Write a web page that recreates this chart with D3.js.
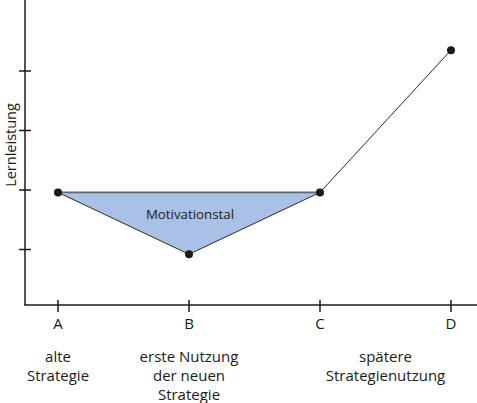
<!DOCTYPE html>
<html>
<head>
<meta charset="utf-8">
<script src="https://cdn.jsdelivr.net/npm/d3@7"></script>
<style>
html,body{margin:0;padding:0;background:#fff;}
svg{display:block;font-family:"Open Sans",sans-serif;}
</style>
</head>
<body>
<svg id="chart" width="477" height="403"></svg>
<script>
const categories = ["A", "B", "C", "D"];
const values = [1.96, 0.92, 1.96, 4.35];
const yTicks = [1, 2, 3, 4];
const yLabel = "Lernleistung";
const areaLabel = "Motivationstal";
const descriptions = [
  {at: ["A"], lines: ["alte", "Strategie"]},
  {at: ["B"], lines: ["erste Nutzung", "der neuen", "Strategie"]},
  {at: ["C", "D"], lines: ["spätere", "Strategienutzung"]}
];

const svg = d3.select("#chart");
const x = d3.scalePoint().domain(categories).range([58, 451]);
const y = d3.scaleLinear().domain([0, 4]).range([309, 71]);
const axisY0 = 305, axisX0 = 25;

// valley polygon (A, B, C)
const valley = categories.slice(0, 3).map((c, i) => [x(c), y(values[i])]);
svg.append("path")
  .attr("d", d3.line()(valley) + "Z")
  .attr("fill", "#a9c1e6")
  .attr("stroke", "none");
svg.append("path")
  .attr("d", d3.line()([valley[0], valley[2]]))
  .attr("stroke", "#666").attr("stroke-width", 1.6).attr("fill", "none");
svg.append("path")
  .attr("d", d3.line()(categories.map((c, i) => [x(c), y(values[i])])))
  .attr("stroke", "#2a2a2a").attr("stroke-width", 1).attr("fill", "none");

svg.append("text")
  .attr("x", x("B") + 1).attr("y", 219)
  .attr("text-anchor", "middle")
  .attr("font-size", 13.3).attr("fill", "#222")
  .text(areaLabel);

svg.selectAll("circle.pt").data(values).join("circle")
  .attr("class", "pt")
  .attr("cx", (d, i) => x(categories[i])).attr("cy", d => y(d))
  .attr("r", 4).attr("fill", "#1a1a1a");

// axes
const g = svg.append("g").attr("stroke", "#1a1a1a").attr("stroke-width", 1.5);
g.append("line").attr("x1", axisX0).attr("x2", axisX0).attr("y1", 0).attr("y2", axisY0);
g.append("line").attr("x1", axisX0 - 0.75).attr("x2", 477).attr("y1", axisY0).attr("y2", axisY0);
g.selectAll("line.yt").data(yTicks).join("line").attr("class", "yt")
  .attr("x1", axisX0 - 6).attr("x2", axisX0 + 6)
  .attr("y1", d => y(d)).attr("y2", d => y(d));
g.selectAll("line.xt").data(categories).join("line").attr("class", "xt")
  .attr("x1", d => x(d)).attr("x2", d => x(d))
  .attr("y1", axisY0 - 5).attr("y2", axisY0 + 7);

svg.selectAll("text.xl").data(categories).join("text").attr("class", "xl")
  .attr("x", d => x(d)).attr("y", 329)
  .attr("text-anchor", "middle").attr("font-size", 15).attr("fill", "#1a1a1a")
  .text(d => d);

descriptions.forEach(desc => {
  const cx = d3.mean(desc.at, c => x(c));
  const t = svg.append("text").attr("text-anchor", "middle")
    .attr("font-size", 15).attr("fill", "#1a1a1a");
  desc.lines.forEach((l, i) => {
    t.append("tspan").attr("x", cx).attr("y", 362 + i * 18.8).text(l);
  });
});

svg.append("text")
  .attr("transform", `translate(15.5,145) rotate(-90)`)
  .attr("text-anchor", "middle").attr("font-size", 14.5).attr("fill", "#1a1a1a")
  .text(yLabel);
</script>
</body>
</html>
